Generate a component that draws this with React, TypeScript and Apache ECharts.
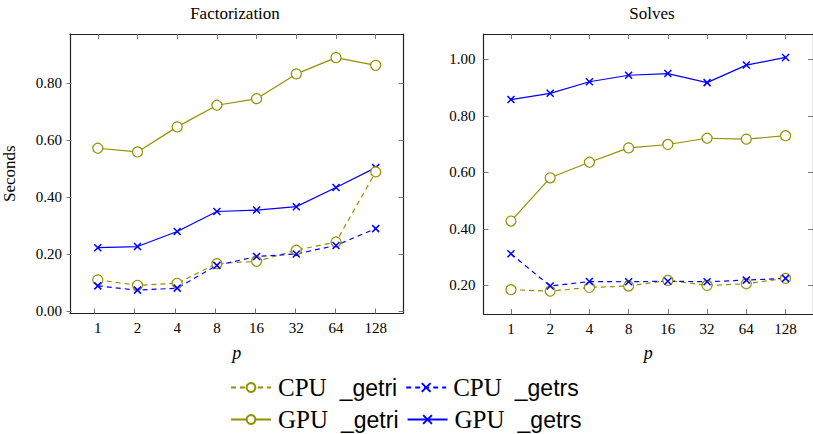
import React, { useEffect, useRef } from "react";
import * as echarts from "echarts";

const P_LABELS = ["1", "2", "4", "8", "16", "32", "64", "128"];

// Factorization (left panel)
const FACT_CPU_GETRI = [0.109, 0.09, 0.097, 0.166, 0.174, 0.213, 0.242, 0.488];
const FACT_CPU_GETRS = [0.088, 0.073, 0.08, 0.16, 0.191, 0.2, 0.23, 0.289];
const FACT_GPU_GETRI = [0.571, 0.558, 0.646, 0.722, 0.745, 0.832, 0.889, 0.862];
const FACT_GPU_GETRS = [0.222, 0.226, 0.279, 0.349, 0.354, 0.366, 0.433, 0.503];

// Solves (right panel)
const SOLV_CPU_GETRI = [0.185, 0.18, 0.193, 0.198, 0.218, 0.2, 0.206, 0.225];
const SOLV_CPU_GETRS = [0.312, 0.198, 0.214, 0.213, 0.215, 0.213, 0.219, 0.225];
const SOLV_GPU_GETRI = [0.428, 0.581, 0.636, 0.687, 0.699, 0.721, 0.718, 0.73];
const SOLV_GPU_GETRS = [0.858, 0.88, 0.921, 0.944, 0.95, 0.918, 0.98, 1.007];

const LEFT_Y_TICKS = [0, 0.2, 0.4, 0.6, 0.8];
const RIGHT_Y_TICKS = [0.2, 0.4, 0.6, 0.8, 1.0];

const NAMES = ["CPU _getri", "CPU _getrs", "GPU _getri", "GPU _getrs"];

const OLIVE = "#949000";
const BLUE = "#0000ff";
const SERIF = "Liberation Serif";
const SANS = "Liberation Sans";
const CROSS = "path://M0,0L10,10M0,10L10,0";

const X_IDX = P_LABELS.map((_, i) => i);
const X_MIN = -0.7;
const X_MAX = 7.7;

function toPts(vals: number[]) {
  return vals.map((v, i) => [i, v]);
}

function makeSeries(name: string, vals: number[], axis: number) {
  const isCpu = name.startsWith("CPU");
  const isTri = name.endsWith("getri");
  const color = isTri ? OLIVE : BLUE;
  return {
    type: "line",
    name,
    xAxisIndex: axis,
    yAxisIndex: axis,
    data: toPts(vals),
    symbol: isTri ? "circle" : CROSS,
    symbolSize: isTri ? 10 : 7,
    color,
    lineStyle: { color, width: 1.2, type: isCpu ? [5, 4] : "solid" },
    itemStyle: isTri
      ? { color: "#fff", borderColor: color, borderWidth: 1.2 }
      : { color, borderColor: color, borderWidth: 1.5 },
    emphasis: { disabled: true },
  };
}

const TICK = { show: true, inside: true, length: 5, lineStyle: { color: "#777", width: 1 } };
const LINE = { show: true, onZero: false, lineStyle: { color: "#222", width: 1.2 } };
const NOLINE = { show: false, onZero: false };

// labelled axes (bottom / left) of a visible grid, plus tick-only top / right axes
function xAxes(grid: number) {
  return [
    {
      type: "value",
      gridIndex: grid,
      min: X_MIN,
      max: X_MAX,
      position: "bottom",
      splitLine: { show: false },
      axisLine: LINE,
      axisTick: { show: false },
      name: "p",
      nameLocation: "middle",
      nameGap: 30,
      nameTextStyle: { fontFamily: SERIF, fontStyle: "italic", fontSize: 18, color: "#000" },
      axisLabel: {
        customValues: X_IDX,
        formatter: (v: number) => P_LABELS[Math.round(v)],
        fontFamily: SERIF,
        fontSize: 15,
        color: "#000",
        margin: 7,
      },
    },
    {
      type: "value",
      gridIndex: grid,
      min: X_MIN,
      max: X_MAX,
      position: "top",
      splitLine: { show: false },
      axisLine: LINE,
      axisTick: { ...TICK, customValues: X_IDX },
      axisLabel: { show: false },
    },
  ];
}

function yAxes(grid: number, min: number, max: number, ticks: number[], name: string) {
  return [
    {
      type: "value",
      gridIndex: grid,
      min,
      max,
      position: "left",
      splitLine: { show: false },
      axisLine: LINE,
      axisTick: { show: false },
      name,
      nameLocation: "middle",
      nameGap: 52,
      nameTextStyle: { fontFamily: SERIF, fontSize: 17, color: "#000" },
      axisLabel: {
        customValues: ticks,
        formatter: (v: number) => v.toFixed(2),
        fontFamily: SERIF,
        fontSize: 15,
        color: "#000",
        margin: 8,
      },
    },
    {
      type: "value",
      gridIndex: grid,
      min,
      max,
      position: "right",
      splitLine: { show: false },
      axisLine: LINE,
      axisTick: { ...TICK, customValues: ticks },
      axisLabel: { show: false },
    },
  ];
}

// tick-only bottom / left axes on an overlay grid
function tickX(grid: number) {
  return {
    type: "value",
    gridIndex: grid,
    min: X_MIN,
    max: X_MAX,
    position: "top",
    splitLine: { show: false },
    axisLine: NOLINE,
    axisTick: { show: false },
    axisLabel: { show: false },
  };
}
function tickXBottom(grid: number) {
  return {
    type: "value",
    gridIndex: grid,
    min: X_MIN,
    max: X_MAX,
    position: "bottom",
    splitLine: { show: false },
    axisLine: NOLINE,
    axisTick: { ...TICK, customValues: X_IDX },
    axisLabel: { show: false },
  };
}
function tickYLeft(grid: number, min: number, max: number, ticks: number[]) {
  return {
    type: "value",
    gridIndex: grid,
    min,
    max,
    position: "left",
    splitLine: { show: false },
    axisLine: NOLINE,
    axisTick: { ...TICK, customValues: ticks },
    axisLabel: { show: false },
  };
}

function legend(top: number, names: string[]) {
  return {
    left: 225,
    top,
    orient: "horizontal",
    data: names,
    itemWidth: 40,
    itemHeight: 11,
    itemGap: 8,
    selectedMode: false,
    formatter: (n: string) => {
      const [a, b] = n.split(" ");
      return `{s|${a}}{t|${b}}`;
    },
    textStyle: {
      rich: {
        s: { fontFamily: SERIF, fontSize: 25, color: "#000", padding: [0, 0, 0, 2] },
        t: { fontFamily: SANS, fontSize: 23, color: "#000", padding: [0, 0, 0, 13] },
      },
    },
  };
}

const LEFT_GRID = { left: 66.5, top: 34, width: 337, height: 279.5 };
const RIGHT_GRID = { left: 483.5, top: 34, width: 337, height: 280 };
const L_MIN = -0.009;
const L_MAX = 0.972;
const R_MIN = 0.099;
const R_MAX = 1.09;

export default function App() {
  const ref = useRef<HTMLDivElement>(null);
  useEffect(() => {
    if (!ref.current) return;
    const chart = echarts.init(ref.current, null, { renderer: "svg" });
    chart.setOption({
      animation: false,
      backgroundColor: "#fff",
      grid: [
        { ...LEFT_GRID, show: false },
        { ...RIGHT_GRID, show: false },
        { ...LEFT_GRID, show: false },
        { ...RIGHT_GRID, show: false },
      ],
      xAxis: [
        ...xAxes(0),
        ...xAxes(1),
        tickXBottom(2),
        tickXBottom(3),
      ],
      yAxis: [
        ...yAxes(0, L_MIN, L_MAX, LEFT_Y_TICKS, "Seconds"),
        ...yAxes(1, R_MIN, R_MAX, RIGHT_Y_TICKS, ""),
        tickYLeft(2, L_MIN, L_MAX, LEFT_Y_TICKS),
        tickYLeft(3, R_MIN, R_MAX, RIGHT_Y_TICKS),
      ],
      legend: [legend(370, [NAMES[0], NAMES[1]]), legend(402, [NAMES[2], NAMES[3]])],
      graphic: [
        { type: "text", x: 235, y: 13, style: { text: "Factorization", fontFamily: SERIF, fontSize: 17, fill: "#000", textAlign: "center", textVerticalAlign: "middle" } },
        { type: "text", x: 652, y: 13, style: { text: "Solves", fontFamily: SERIF, fontSize: 17, fill: "#000", textAlign: "center", textVerticalAlign: "middle" } },
      ],
      series: [
        makeSeries(NAMES[2], FACT_GPU_GETRI, 0),
        makeSeries(NAMES[3], FACT_GPU_GETRS, 0),
        makeSeries(NAMES[0], FACT_CPU_GETRI, 0),
        makeSeries(NAMES[1], FACT_CPU_GETRS, 0),
        makeSeries(NAMES[2], SOLV_GPU_GETRI, 2),
        makeSeries(NAMES[3], SOLV_GPU_GETRS, 2),
        makeSeries(NAMES[0], SOLV_CPU_GETRI, 2),
        makeSeries(NAMES[1], SOLV_CPU_GETRS, 2),
      ],
    });
    return () => chart.dispose();
  }, []);
  return (
    <div
      ref={ref}
      style={{ position: "fixed", left: 0, top: 0, width: 813, height: 434, background: "#fff" }}
    />
  );
}
